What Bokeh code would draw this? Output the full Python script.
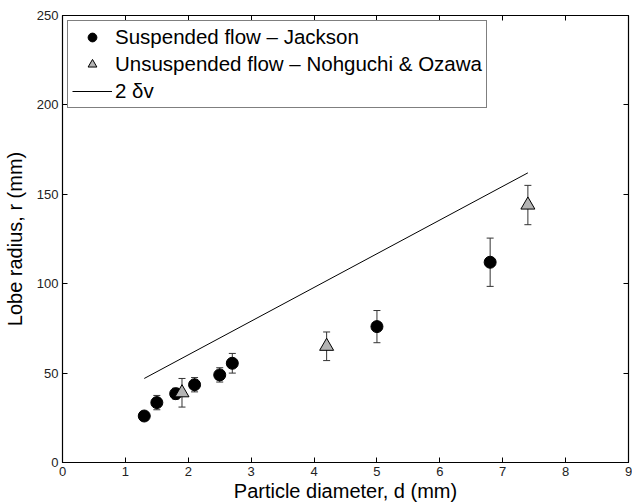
from bokeh.plotting import figure
from bokeh.models import (ColumnDataSource, Whisker, TeeHead, LinearAxis, FixedTicker,
                          Range1d, Legend, LegendItem)
from bokeh.embed import file_html
from bokeh.resources import INLINE

# ---- data ----
jackson_d = [1.3, 1.5, 1.8, 2.1, 2.5, 2.7, 5.0, 6.8]
jackson_r = [26, 33.5, 38.5, 43.5, 49, 55.5, 76, 112]
jackson_err = [0, 4, 3, 4, 4, 5.5, 9, 13.5]

nohguchi_d = [1.9, 4.2, 7.4]
nohguchi_r = [39, 65, 144]
nohguchi_err = [8, 8, 11]

line_d = [1.3, 7.4]
line_r = [47, 162]

x_ticks = [0, 1, 2, 3, 4, 5, 6, 7, 8, 9]
y_ticks = [0, 50, 100, 150, 200, 250]

FONT = "Liberation Sans"

p = figure(width=632, height=504, output_backend="svg", toolbar_location=None,
           x_range=Range1d(0, 9), y_range=Range1d(0, 250),
           min_border_left=61, min_border_right=4, min_border_top=15, min_border_bottom=42)
p.grid.visible = False
p.outline_line_color = "black"
p.outline_line_width = 1.2

for ax in (p.xaxis[0], p.yaxis[0]):
    ax.major_tick_in = 5
    ax.major_tick_out = 0
    ax.minor_tick_line_color = None
    ax.axis_line_color = "black"
    ax.major_tick_line_color = "black"
    ax.major_label_text_font = FONT
    ax.major_label_text_font_size = "13px"
    ax.major_label_text_color = "#222222"
    ax.axis_label_text_font = FONT
    ax.axis_label_text_font_size = "20px"
    ax.axis_label_text_font_style = "normal"
    ax.axis_label_text_color = "black"
    ax.major_label_standoff = 4

p.xaxis[0].axis_label_standoff = 1
p.yaxis[0].axis_label_standoff = 8
p.xaxis[0].ticker = FixedTicker(ticks=x_ticks)
p.yaxis[0].ticker = FixedTicker(ticks=y_ticks)
p.xaxis[0].axis_label = "Particle diameter, d (mm)"
p.yaxis[0].axis_label = "Lobe radius, r (mm)"

for loc, ticks in (("above", x_ticks), ("right", y_ticks)):
    ax = LinearAxis(ticker=FixedTicker(ticks=ticks))
    ax.major_tick_in = 5
    ax.major_tick_out = 0
    ax.minor_tick_line_color = None
    ax.axis_line_color = None
    ax.major_label_text_font_size = "1px"
    ax.major_label_text_color = None
    ax.major_label_standoff = 0
    p.add_layout(ax, loc)

# line
line_main = p.line(line_d, line_r, line_color="black", line_width=1)

# error bars
src_j = ColumnDataSource(dict(x=jackson_d, y=jackson_r,
                              lo=[r - e for r, e in zip(jackson_r, jackson_err)],
                              hi=[r + e for r, e in zip(jackson_r, jackson_err)]))
src_n = ColumnDataSource(dict(x=nohguchi_d, y=nohguchi_r,
                              lo=[r - e for r, e in zip(nohguchi_r, nohguchi_err)],
                              hi=[r + e for r, e in zip(nohguchi_r, nohguchi_err)]))
for src in (src_j, src_n):
    w = Whisker(source=src, base="x", lower="lo", upper="hi", line_color="#333333",
                line_width=1,
                upper_head=TeeHead(size=7, line_color="#333333", line_width=1),
                lower_head=TeeHead(size=7, line_color="#333333", line_width=1),
                level="underlay")
    p.add_layout(w)

r_j = p.scatter("x", "y", source=src_j, marker="circle", size=12,
                fill_color="black", line_color="black")
r_n = p.scatter("x", "y", source=src_n, marker="triangle", size=14,
                fill_color="#b4b4b4", line_color="black", line_width=1)

legend = Legend(items=[
    LegendItem(label="Suspended flow \u2013 Jackson", renderers=[r_j]),
    LegendItem(label="Unsuspended flow \u2013 Nohguchi & Ozawa", renderers=[r_n]),
    LegendItem(label="2 \u03b4v", renderers=[line_main]),
], location="top_left")
legend.label_text_font = FONT
legend.label_text_font_size = "20.5px"
legend.label_text_color = "black"
legend.border_line_color = "black"
legend.border_line_width = 1
legend.glyph_width = 40
legend.glyph_height = 22
legend.label_height = 22
legend.spacing = 3
legend.padding = 4
legend.margin = 5
legend.label_standoff = 3
legend.background_fill_alpha = 1
p.add_layout(legend)

open("out.html", "w").write(file_html(p, INLINE))
